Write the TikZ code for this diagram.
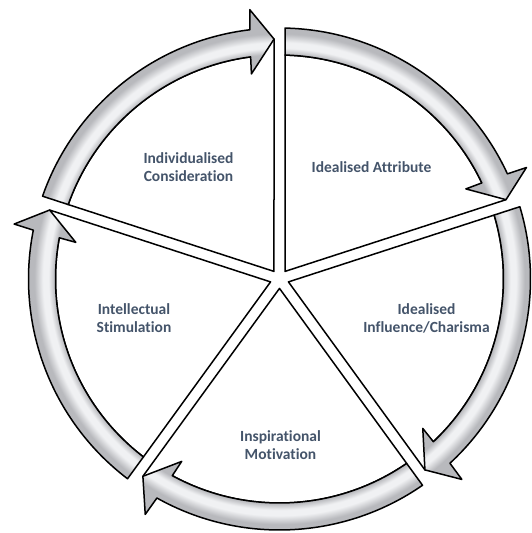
\documentclass[tikz,border=0pt]{standalone}
\usepackage{fontspec}
\setmainfont{Carlito}[Ligatures=NoCommon]
\definecolor{tlslate}{RGB}{68,84,106}
\definecolor{tlgrey}{RGB}{184,185,189}
\definecolor{tllight}{RGB}{240,241,243}
% light streak along the middle of the ring (circle of radius 275 -> 25bp)
\pgfdeclareradialshading{tlring}{\pgfpointorigin}{color(0bp)=(tlgrey); color(20.4bp)=(tlgrey); color(21.0bp)=(tllight); color(21.5bp)=(tllight); color(22.3bp)=(tlgrey); color(50bp)=(tlgrey)}
\tikzset{
  tlwedge/.style={draw, fill=white, line width=1.5pt, line join=round},
  tlband/.style={draw, line width=1.5pt, line join=round, path picture={\shade[shading=tlring] (0,0) circle (275);}},
  tllabel/.style={align=center, font=\bfseries\fontsize{15.5}{18}\selectfont, text=tlslate},
  % one slice: white wedge plus the curved arrow on its rim, tail at #1, head at #1-72
  pics/tlsector/.style={code={
    \draw[tlwedge] ({#1-36}:9.4) -- ({#1-1.41}:224) arc[start angle={#1-1.41}, end angle={#1-64.6}, radius=224] -- ({#1-70.7}:240) -- cycle;
    \draw[tlband] ({#1-1.26}:251) arc[start angle={#1-1.26}, end angle={#1-65.23}, radius=251] -- ({#1-65.7}:271) -- ({#1-70.7}:240) -- ({#1-64.2}:207) -- ({#1-64.6}:224) arc[start angle={#1-64.6}, end angle={#1-1.41}, radius=224] -- cycle;
  }}
}

\begin{document}
\begin{tikzpicture}[x=1pt, y=1pt]
\useasboundingbox (-279.5,-254) rectangle (252.5,279);

\pic at (0,0) {tlsector=90};
\pic at (0,0) {tlsector=18};
\pic at (0,0) {tlsector=-54};
\pic at (0,0) {tlsector=-126};
\pic at (0,0) {tlsector=162};

\node[tllabel] (consider) at (-91,112) {Individualised\\Consideration};
\node[tllabel] (attribute) at (92,112) {Idealised Attribute};
\node[tllabel] (influence) at (147,-39.5) {Idealised\\Influence/Charisma};
\node[tllabel] (stimulate) at (-145.5,-39.5) {Intellectual\\Stimulation};
\node[tllabel] (motivate) at (1,-166) {Inspirational\\Motivation};
\end{tikzpicture}
\end{document}
